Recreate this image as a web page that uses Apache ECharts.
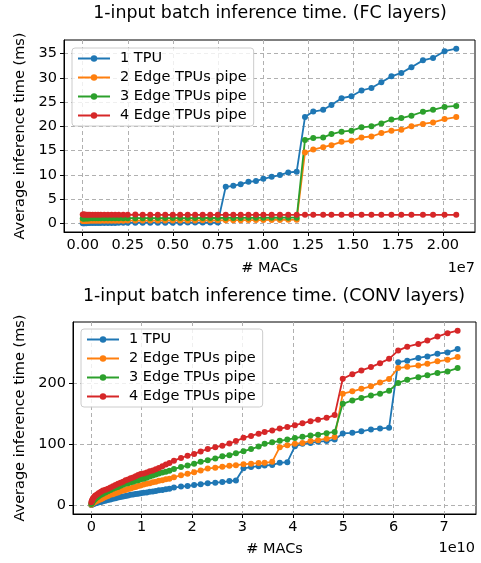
<!DOCTYPE html>
<html>
<head>
<meta charset="utf-8">
<script src="https://cdn.jsdelivr.net/npm/echarts@6/dist/echarts.min.js"></script>
<style>
  html, body { margin: 0; padding: 0; background: #fff; }
  #chart { width: 481px; height: 563px; }
</style>
</head>
<body>
<div id="chart"></div>
<script>
const seriesNames = ['1 TPU', '2 Edge TPUs pipe', '3 Edge TPUs pipe', '4 Edge TPUs pipe']
const colors = ['#1f77b4', '#ff7f0e', '#2ca02c', '#d62728']

// FC layers chart, x in units of 1e7 MACs, y in ms
const fcMacs = [0, 0.005, 0.01, 0.02, 0.03, 0.04, 0.055, 0.07, 0.085, 0.10, 0.12, 0.14, 0.16, 0.18, 0.20, 0.225, 0.25, 0.292, 0.333, 0.375, 0.417, 0.458, 0.50, 0.541, 0.583, 0.624, 0.666, 0.708, 0.75,
  0.794, 0.836, 0.877, 0.920, 0.962, 1.003, 1.049, 1.095, 1.141, 1.188,
  1.234, 1.28, 1.335, 1.381, 1.437, 1.492, 1.548, 1.603, 1.658, 1.714, 1.769, 1.825, 1.889, 1.945, 2.009, 2.074]
const fcTpu1 = [0.02, 0.02, 0.03, 0.03, 0.04, 0.04, 0.05, 0.05, 0.06, 0.06, 0.07, 0.07, 0.08, 0.08, 0.09, 0.09, 0.1, 0.1, 0.11, 0.11, 0.12, 0.12, 0.13, 0.13, 0.14, 0.14, 0.15, 0.15, 0.16,
  7.52, 7.73, 8.07, 8.56, 8.70, 9.18, 9.59, 9.94, 10.49, 10.63,
  21.9, 23.05, 23.4, 24.4, 25.8, 26.2, 27.4, 27.9, 29.1, 30.3, 31.0, 32.2, 33.6, 34.1, 35.5, 36.0]
const fcPipe2 = [0.48, 0.48, 0.49, 0.49, 0.5, 0.5, 0.5, 0.51, 0.51, 0.52, 0.52, 0.52, 0.53, 0.53, 0.54, 0.54, 0.55, 0.55, 0.56, 0.56, 0.57, 0.57, 0.58, 0.58, 0.59, 0.59, 0.6, 0.6, 0.61,
  0.62, 0.63, 0.64, 0.65, 0.66, 0.67, 0.69, 0.70, 0.72, 0.74,
  14.6, 15.2, 15.7, 16.1, 16.8, 17.0, 17.7, 17.9, 18.6, 19.1, 19.3, 20.0, 20.5, 20.8, 21.5, 21.9]
const fcPipe3 = [1.0, 1.0, 1.01, 1.01, 1.01, 1.02, 1.02, 1.02, 1.03, 1.03, 1.03, 1.04, 1.04, 1.04, 1.05, 1.05, 1.05, 1.06, 1.06, 1.06, 1.07, 1.07, 1.07, 1.08, 1.08, 1.08, 1.09, 1.09, 1.09,
  1.1, 1.1, 1.11, 1.12, 1.12, 1.13, 1.14, 1.14, 1.15, 1.16,
  17.2, 17.6, 17.7, 18.4, 18.9, 19.1, 19.8, 20.0, 20.6, 21.4, 21.7, 22.2, 23.0, 23.4, 24.0, 24.2]
const fcPipe4 = [1.82, 1.8, 1.79, 1.78, 1.78, 1.77, 1.77, 1.76, 1.76, 1.76, 1.75, 1.75, 1.75, 1.75, 1.74, 1.74, 1.74, 1.8, 1.75, 1.74, 1.74, 1.74, 1.74, 1.74, 1.74, 1.74, 1.74, 1.74, 1.74,
  1.74, 1.74, 1.74, 1.74, 1.74, 1.74, 1.74, 1.74, 1.74, 1.74,
  1.75, 1.74, 1.74, 1.74, 1.74, 1.74, 1.74, 1.74, 1.74, 1.74, 1.74, 1.74, 1.74, 1.74, 1.74, 1.74]
const fcXTicks = [0, 0.25, 0.5, 0.75, 1.0, 1.25, 1.5, 1.75, 2.0]
const fcYTicks = [0, 5, 10, 15, 20, 25, 30, 35]

// CONV layers chart, x in units of 1e10 MACs, y in ms
const convMacs = [0, 0.01, 0.02, 0.03, 0.05, 0.07, 0.09, 0.12, 0.15, 0.19, 0.23, 0.28, 0.33, 0.38, 0.43, 0.48, 0.53, 0.58, 0.63, 0.68,
  0.73, 0.78, 0.83, 0.88, 0.93, 0.98, 1.04, 1.10, 1.16, 1.22, 1.28, 1.34, 1.41, 1.48, 1.55, 1.64, 1.78, 1.91, 2.04, 2.17,
  2.31, 2.46, 2.60, 2.74, 2.87, 3.02, 3.17, 3.32, 3.44, 3.59, 3.74, 3.89, 4.04, 4.19, 4.35, 4.50, 4.67, 4.83, 4.99, 5.18,
  5.36, 5.55, 5.73, 5.91, 6.09, 6.27, 6.49, 6.67, 6.87, 7.07, 7.27]
const convTpu1 = [0.5, 1, 1.5, 2, 2.5, 3, 3.5, 4, 5, 5.5, 6.5, 7.5, 8.5, 9.5, 10.5, 11.5, 12.5, 13.5, 14.5, 15,
  16, 17, 17.5, 18.5, 19, 19.5, 20.5, 21, 22, 22.5, 23.5, 24.5, 25, 26, 27, 29, 30.5, 31.5, 33, 34.5,
  36, 37, 38, 39.5, 40.5, 60.5, 62.5, 64, 65, 66, 69.5, 70.5, 96.5, 100.5, 102, 104, 105, 107.5, 117.5, 118.5,
  121, 124, 125.5, 127, 234, 236.5, 241, 243.5, 248, 250, 255.5]
const convPipe2 = [1, 2, 3, 3.5, 4.5, 5.5, 6.5, 7.5, 8.5, 10, 11.5, 13.5, 15, 17, 18, 19.5, 21, 23, 24, 25,
  26.5, 27.5, 29, 30, 31.5, 32.5, 34, 35, 36, 37.5, 38.5, 40, 41, 42.5, 43.5, 46, 49, 51.5, 54, 57,
  60, 61.5, 63, 64.5, 65.5, 67, 68, 69, 69.5, 71, 95, 98, 100.5, 102, 105, 106.5, 109, 111.5, 182.5, 186.5,
  190.5, 194.5, 201, 206.5, 224.5, 226.5, 228.5, 231.5, 235.5, 238, 242.5]
const convPipe3 = [2, 3.5, 5, 6, 8, 10, 11.5, 13, 15, 17, 19, 21, 23, 25, 27, 28.5, 30, 32, 33.5, 35,
  36, 37.5, 38.5, 40, 41, 42.5, 43.5, 45, 47, 48.5, 50.5, 52, 53.5, 55, 56.5, 59.5, 62.5, 65, 68, 71,
  73.5, 76.5, 80, 82, 85, 88.5, 92, 96, 100.5, 103, 105.5, 107.5, 110, 112, 114, 115.5, 118, 120, 166, 171.5,
  175.5, 179.5, 182.5, 187.5, 200, 205.5, 209.5, 212.5, 216.5, 219, 224.5]
const convPipe4 = [5, 7, 9, 11, 13, 15, 16.5, 18, 20, 22, 24, 25.5, 27, 29, 31, 33, 35, 37, 38.5, 41,
  42, 44, 45.5, 47.5, 49.5, 51, 52, 53.5, 55.5, 57, 59, 61, 64, 66.5, 69, 73, 77.5, 81, 84, 88,
  92, 95, 97.5, 101, 105, 110.5, 113.5, 117, 120, 122.5, 125.5, 128, 131, 134, 137.5, 140, 143, 147.5, 207, 214.5,
  220.5, 226, 232.5, 239.5, 253, 259.5, 264, 269.5, 276, 281.5, 285.5]
const convXTicks = [0, 1, 2, 3, 4, 5, 6, 7]
const convYTicks = [0, 100, 200]

const font = 'DejaVu Sans'
const labelSize = 14.5
const titleSize = 17.4

function pairs (xs, ys) {
  return xs.map((x, i) => [x, ys[i]])
}

function makeSeries (name, color, idx, xs, ys) {
  return {
    name: name,
    type: 'line',
    xAxisIndex: idx,
    yAxisIndex: idx,
    data: pairs(xs, ys),
    symbol: 'circle',
    symbolSize: 6,
    lineStyle: { width: 1.8, color: color },
    itemStyle: { color: color },
    emphasis: { disabled: true }
  }
}

function xAxisFor (idx, min, max, ticks, fmt, gap) {
  return {
    gridIndex: idx,
    type: 'value',
    min: min,
    max: max,
    name: '# MACs',
    nameLocation: 'middle',
    nameGap: gap,
    nameTextStyle: { fontSize: labelSize, color: '#000', fontFamily: font },
    axisLine: { show: true, onZero: false, lineStyle: { color: '#000', width: 1 } },
    axisTick: { show: true, length: 4, customValues: ticks, lineStyle: { color: '#000' } },
    axisLabel: { customValues: ticks, formatter: fmt, fontSize: labelSize, color: '#000', fontFamily: font, margin: 6 },
    splitLine: { show: true, lineStyle: { type: [4, 3], color: '#b0b0b0', width: 1 } }
  }
}

function yAxisFor (idx, min, max, ticks, gap) {
  return {
    gridIndex: idx,
    type: 'value',
    min: min,
    max: max,
    name: 'Average inference time (ms)',
    nameLocation: 'middle',
    nameGap: gap,
    nameTextStyle: { fontSize: labelSize, color: '#000', fontFamily: font },
    axisLine: { show: true, onZero: false, lineStyle: { color: '#000', width: 1 } },
    axisTick: { show: true, length: 4, customValues: ticks, lineStyle: { color: '#000' } },
    axisLabel: { customValues: ticks, fontSize: labelSize, color: '#000', fontFamily: font, margin: 7 },
    splitLine: { show: true, lineStyle: { type: [4, 3], color: '#b0b0b0', width: 1 } }
  }
}

function legendAt (left, top) {
  return {
    orient: 'vertical',
    left: left,
    top: top,
    itemWidth: 32,
    itemHeight: 8,
    itemGap: 4,
    padding: [3, 7, 3, 5],
    backgroundColor: 'rgba(255,255,255,0.8)',
    borderColor: '#cccccc',
    borderWidth: 1,
    borderRadius: 3,
    textStyle: { fontSize: labelSize, color: '#000', fontFamily: font, padding: [0, 0, 0, 5] },
    data: seriesNames
  }
}

let myChart = echarts.init(document.getElementById('chart'))

let series = []
let fcData = [fcTpu1, fcPipe2, fcPipe3, fcPipe4]
let convData = [convTpu1, convPipe2, convPipe3, convPipe4]
seriesNames.forEach(function (name, i) {
  series.push(makeSeries(name, colors[i], 0, fcMacs, fcData[i]))
})
seriesNames.forEach(function (name, i) {
  series.push(makeSeries(name, colors[i], 1, convMacs, convData[i]))
})

let option = {
  animation: false,
  textStyle: { fontFamily: font },
  grid: [
    { left: 64, right: 6, top: 40, height: 192, show: true, borderColor: '#000', borderWidth: 1, backgroundColor: 'transparent' },
    { left: 73, right: 5, top: 322, height: 192, show: true, borderColor: '#000', borderWidth: 1, backgroundColor: 'transparent' }
  ],
  xAxis: [
    xAxisFor(0, -0.104, 2.178, fcXTicks, v => v.toFixed(2), 29),
    xAxisFor(1, -0.364, 7.635, convXTicks, v => String(v), 28)
  ],
  yAxis: [
    yAxisFor(0, -1.8, 37.8, fcYTicks, 32),
    yAxisFor(1, -14.3, 299.8, convYTicks, 41)
  ],
  legend: [legendAt(72, 48), legendAt(81, 329)],
  graphic: [
    { type: 'text', x: 270, y: 13, style: { text: '1-input batch inference time. (FC layers)', align: 'center', verticalAlign: 'middle', fontSize: titleSize, fontFamily: font, fill: '#000' } },
    { type: 'text', x: 274, y: 296, style: { text: '1-input batch inference time. (CONV layers)', align: 'center', verticalAlign: 'middle', fontSize: titleSize, fontFamily: font, fill: '#000' } },
    { type: 'text', x: 475, y: 268, style: { text: '1e7', align: 'right', verticalAlign: 'middle', fontSize: labelSize, fontFamily: font, fill: '#000' } },
    { type: 'text', x: 475, y: 548, style: { text: '1e10', align: 'right', verticalAlign: 'middle', fontSize: labelSize, fontFamily: font, fill: '#000' } }
  ],
  series: series
}
myChart.setOption(option)
</script>
</body>
</html>
